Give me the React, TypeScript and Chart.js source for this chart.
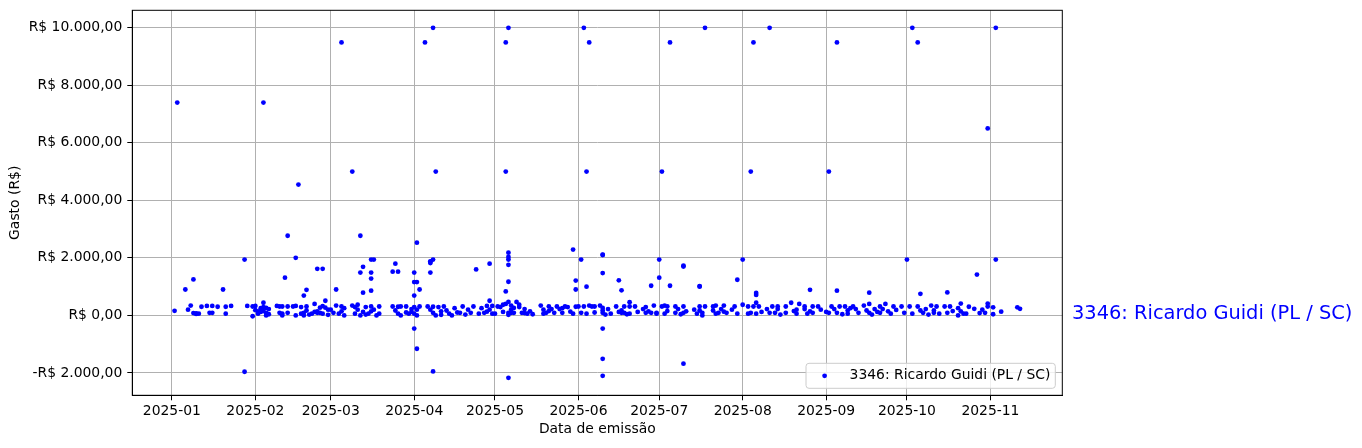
import React, { useEffect, useRef } from "react";
import { Chart, registerables } from "chart.js";

Chart.register(...registerables);

const SERIES_LABEL = "3346: Ricardo Guidi (PL / SC)";
const Y_TITLE = "Gasto (R$)";
const X_TITLE = "Data de emissão";

const xTickLabels = [
  "2025-01", "2025-02", "2025-03", "2025-04", "2025-05", "2025-06",
  "2025-07", "2025-08", "2025-09", "2025-10", "2025-11",
];
const yTickValues = [-2000, 0, 2000, 4000, 6000, 8000, 10000];
const yTickLabels = [
  "-R$ 2.000,00", "R$ 0,00", "R$ 2.000,00", "R$ 4.000,00",
  "R$ 6.000,00", "R$ 8.000,00", "R$ 10.000,00",
];

// [day of month, amount in R$] for each month of 2025
const jan: [number, number][] = [
  [2, 160], [3, 7400], [6, 900], [7, 200], [8, 340], [9, 1250], [9, 80], [10, 70], [10, 50],
  [11, 60], [12, 300], [14, 330], [15, 90], [16, 90], [16, 330], [18, 300], [20, 900], [21, 60],
  [21, 300], [23, 330], [28, 1940], [28, -1960], [29, 330], [31, 310], [31, -30],
];
const feb: [number, number][] = [
  [1, 330], [1, 180], [2, 140], [2, 60], [3, 250], [3, 120], [4, 440], [4, 290], [4, 7400],
  [4, 150], [5, 90], [5, 0], [5, 260], [6, 220], [6, 40], [9, 330], [10, 310], [10, 90],
  [11, 60], [11, 310], [11, 0], [12, 1310], [13, 2770], [13, 310], [13, 90], [15, 310],
  [16, 330], [16, 2000], [16, 0], [17, 4550], [18, 290], [18, 60], [19, 0], [19, 690], [19, 90],
  [20, 310], [20, 170], [20, 890], [21, 30], [22, 60], [23, 120], [23, 400], [24, 90],
  [24, 1620], [24, 140], [25, 270], [25, 90], [26, 1620], [26, 60], [26, 320], [27, 510],
  [27, 270], [28, 20], [28, 200],
];
const mar: [number, number][] = [
  [1, 200], [2, 90], [3, 340], [3, 900], [4, 60], [5, 9490], [5, 310], [5, 140], [6, 0],
  [6, 250], [9, 340], [9, 5000], [10, 290], [10, 60], [11, 370], [11, 200], [12, 0], [12, 2770],
  [12, 1490], [13, 120], [13, 1690], [13, 790], [14, 290], [14, 30], [15, 60], [16, 310],
  [16, 140], [16, 1490], [16, 1280], [16, 860], [16, 1940], [17, 1940], [17, 200], [18, 0],
  [19, 310], [19, 60], [24, 310], [24, 1520], [25, 170], [25, 1800], [26, 60], [26, 1520],
  [26, 300], [27, 310], [27, 0], [29, 310], [29, 100], [30, 60], [31, 220], [31, 120],
];
const apr: [number, number][] = [
  [1, 290], [1, 60], [1, 1490], [1, 690], [1, -460], [1, 1160], [2, 0], [2, 2530], [2, 1160],
  [2, -1160], [2, 200], [3, 310], [3, 900], [5, 9490], [6, 310], [7, 1490], [7, 1820],
  [7, 1860], [7, 1880], [7, 200], [8, 90], [8, 1940], [8, -1950], [8, 10000], [8, 300], [9, 0],
  [9, 5000], [10, 290], [11, 140], [11, 20], [12, 310], [13, 170], [14, 60], [15, 0], [16, 250],
  [17, 100], [18, 90], [19, 310], [20, 30], [21, 200], [22, 90], [23, 310], [24, 1600],
  [25, 60], [26, 250], [27, 90], [28, 330], [28, 130], [29, 200], [29, 1800], [29, 510],
  [30, 330], [30, 60],
];
const may: [number, number][] = [
  [1, 60], [2, 310], [3, 290], [4, 370], [4, 120], [5, 400], [5, 835], [5, 5000], [5, 9490],
  [6, 90], [6, 1940], [6, 2180], [6, 2030], [6, 1760], [6, 1170], [6, -2170], [6, 10000],
  [6, 470], [6, 20], [7, 90], [7, 340], [7, 200], [8, 90], [8, 260], [9, 470], [10, 290],
  [10, 370], [11, 90], [12, 220], [12, 80], [13, 60], [14, 140], [15, 40], [18, 340], [19, 200],
  [19, 60], [20, 90], [21, 310], [21, 150], [22, 220], [23, 90], [24, 310], [25, 220], [26, 90],
  [26, 250], [27, 310], [28, 290], [29, 130], [30, 60], [30, 2290], [31, 1210], [31, 900],
  [31, 300],
];
const jun: [number, number][] = [
  [1, 310], [2, 90], [2, 1940], [3, 310], [3, 10000], [4, 60], [5, 340], [4, 1000], [4, 5000],
  [5, 9490], [6, 310], [7, 310], [7, 100], [9, 340], [10, 170], [10, 90], [10, 2100],
  [10, 2110], [10, 1470], [10, -460], [10, -1510], [10, -2100], [10, 260], [11, 30], [12, 220],
  [13, 60], [15, 310], [16, 1220], [16, 120], [17, 170], [17, 90], [17, 870], [18, 310],
  [18, 90], [19, 40], [20, 60], [20, 310], [20, 460], [22, 310], [23, 120], [25, 220], [26, 90],
  [26, 290], [27, 140], [28, 90], [28, 1030], [29, 340], [30, 90], [30, 60],
];
const jul: [number, number][] = [
  [1, 1940], [1, 1310], [2, 310], [2, 5000], [3, 340], [3, 60], [4, 310], [4, 150], [5, 1030],
  [5, 9490], [7, 310], [7, 90], [8, 220], [9, 40], [10, 310], [10, 90], [10, 1700], [10, 1730],
  [10, -1680], [11, 140], [14, 200], [15, 60], [16, 170], [16, 1000], [16, 1020], [16, 310],
  [17, 90], [17, 0], [18, 310], [18, 10000], [21, 310], [21, 170], [22, 340], [22, 60],
  [23, 90], [24, 220], [25, 340], [25, 130], [26, 90], [28, 200], [29, 310], [30, 60],
  [30, 1240],
];
const aug: [number, number][] = [
  [1, 370], [1, 1940], [3, 310], [3, 60], [4, 90], [4, 5000], [5, 310], [5, 9490], [6, 60],
  [6, 780], [6, 710], [6, 440], [7, 310], [8, 120], [10, 220], [11, 90], [11, 10000], [12, 310],
  [13, 90], [14, 220], [14, 310], [15, 30], [17, 90], [17, 310], [19, 440], [20, 150], [21, 60],
  [21, 200], [22, 400], [24, 220], [24, 310], [25, 60], [26, 140], [26, 890], [27, 310],
  [27, 90], [29, 310], [30, 200],
];
const sep: [number, number][] = [
  [1, 120], [2, 90], [2, 5000], [3, 310], [4, 220], [5, 90], [5, 860], [5, 9490], [6, 310],
  [7, 40], [8, 310], [9, 170], [9, 60], [10, 250], [11, 310], [12, 220], [13, 90], [15, 340],
  [16, 170], [17, 90], [17, 400], [17, 790], [18, 30], [19, 220], [20, 120], [21, 90],
  [21, 310], [22, 220], [23, 400], [24, 140], [25, 60], [26, 310], [27, 190], [29, 310],
  [30, 90],
];
const oct: [number, number][] = [
  [1, 1940], [2, 310], [3, 10000], [3, 60], [5, 310], [5, 9490], [6, 170], [6, 750], [7, 90],
  [8, 220], [9, 30], [10, 340], [11, 90], [11, 170], [12, 310], [13, 60], [15, 310], [16, 90],
  [16, 800], [17, 310], [18, 150], [20, 250], [20, 0], [21, 410], [21, 140], [22, 60], [23, 60],
  [24, 300], [26, 230], [27, 1420], [28, 80], [29, 200], [30, 90], [31, 410], [31, 310],
  [31, 6500],
];
const nov: [number, number][] = [
  [2, 280], [2, 40], [3, 10000], [3, 1940], [5, 130], [11, 280], [12, 230],
];

const monthly = [jan, feb, mar, apr, may, jun, jul, aug, sep, oct, nov];

function dayIndex(month: number, day: number): number {
  return (Date.UTC(2025, month, day) - Date.UTC(2025, 0, 1)) / 86400000;
}

const FONT = "DejaVu Sans";
const BLUE = "#0000ff";

const decorPlugin = {
  id: "mplDecor",
  afterDraw(chart: any) {
    const { ctx, chartArea: a } = chart;
    ctx.save();
    ctx.strokeStyle = "#000";
    ctx.lineWidth = 1;
    ctx.strokeRect(a.left, a.top, a.right - a.left, a.bottom - a.top);

    const w = 249.3;
    const h = 25;
    const bx = a.right - 7 - w;
    const by = a.bottom - 7 - h;
    ctx.beginPath();
    ctx.roundRect(bx, by, w, h, 3);
    ctx.fillStyle = "rgba(255,255,255,0.8)";
    ctx.fill();
    ctx.strokeStyle = "#cccccc";
    ctx.lineWidth = 1;
    ctx.stroke();
    const cy = by + h / 2;
    ctx.fillStyle = BLUE;
    ctx.beginPath();
    ctx.arc(bx + 18.6, cy, 2.4, 0, Math.PI * 2);
    ctx.fill();
    ctx.fillStyle = "#000";
    ctx.font = `13.9px "${FONT}"`;
    ctx.textBaseline = "middle";
    ctx.textAlign = "left";
    ctx.fillText(SERIES_LABEL, bx + 43.6, cy);

    const y0 = chart.scales.y.getPixelForValue(0);
    ctx.fillStyle = BLUE;
    ctx.font = `19.4px "${FONT}"`;
    ctx.fillText(SERIES_LABEL, a.right + 9.7, y0 - 1);
    ctx.restore();
  },
};

export default function App() {
  const ref = useRef<HTMLCanvasElement | null>(null);

  useEffect(() => {
    document.body.style.margin = "0";
    const canvas = ref.current;
    if (!canvas) return;

    const points = monthly.flatMap((arr, m) =>
      arr.map(([d, v]) => ({ x: dayIndex(m, d), y: v }))
    );
    const xs = points.map((p) => p.x);
    const ys = points.map((p) => p.y);
    const xMin = Math.min(...xs);
    const xMax = Math.max(...xs);
    const yMin = Math.min(...ys);
    const yMax = Math.max(...ys);
    const xPad = (xMax - xMin) * 0.05;
    const yPad = (yMax - yMin) * 0.05;
    const xTickValues = xTickLabels.map((l) => dayIndex(parseInt(l.slice(5), 10) - 1, 1));

    const noPad = (s: any) => {
      s.paddingTop = 0;
      s.paddingBottom = 0;
      s.paddingLeft = 0;
      s.paddingRight = 0;
    };

    const chart = new Chart(canvas, {
      type: "scatter",
      data: {
        datasets: [
          {
            label: SERIES_LABEL,
            data: points,
            pointRadius: 2.4,
            pointBackgroundColor: BLUE,
            pointBorderWidth: 0,
            pointHoverRadius: 2.4,
          },
        ],
      },
      options: {
        animation: false,
        responsive: false,
        events: [],
        layout: { padding: { left: 0, right: 299.7, top: 10.3, bottom: 0 } },
        plugins: {
          legend: { display: false },
          tooltip: { enabled: false },
        },
        scales: {
          x: {
            type: "linear",
            z: 1,
            min: xMin - xPad,
            max: xMax + xPad,
            bounds: "data",
            afterBuildTicks: (s: any) => {
              s.ticks = xTickValues.map((v) => ({ value: v }));
            },
            afterFit: (s: any) => {
              s.height = 448 - 395.3;
              noPad(s);
            },
            ticks: {
              autoSkip: false,
              maxRotation: 0,
              padding: 3,
              color: "#000",
              font: { family: FONT, size: 13.9 },
              callback: (_v: any, i: number) => xTickLabels[i],
            },
            grid: {
              color: "#b0b0b0",
              lineWidth: 1,
              drawTicks: true,
              tickLength: 5,
              tickColor: "#000",
              tickWidth: 1,
            },
            border: { color: "#000", width: 1 },
            title: {
              display: true,
              text: X_TITLE,
              color: "#000",
              font: { family: FONT, size: 13.9 },
              padding: { top: 0, bottom: 10 },
            },
          },
          y: {
            type: "linear",
            z: 1,
            min: yMin - yPad,
            max: yMax + yPad,
            bounds: "data",
            afterBuildTicks: (s: any) => {
              s.ticks = yTickValues.map((v) => ({ value: v }));
            },
            afterFit: (s: any) => {
              s.width = 132.3;
              noPad(s);
            },
            ticks: {
              autoSkip: false,
              padding: 5,
              color: "#000",
              font: { family: FONT, size: 13.9 },
              callback: (_v: any, i: number) => yTickLabels[i],
            },
            grid: {
              color: "#b0b0b0",
              lineWidth: 1,
              drawTicks: true,
              tickLength: 5,
              tickColor: "#000",
              tickWidth: 1,
            },
            border: { color: "#000", width: 1 },
            title: {
              display: true,
              text: Y_TITLE,
              color: "#000",
              font: { family: FONT, size: 13.9 },
              padding: { top: 7, bottom: 0 },
            },
          },
        },
      },
      plugins: [decorPlugin],
    } as any);

    return () => chart.destroy();
  }, []);

  return (
    <canvas
      ref={ref}
      width={1362}
      height={448}
      style={{ display: "block", width: 1362, height: 448 }}
    />
  );
}
